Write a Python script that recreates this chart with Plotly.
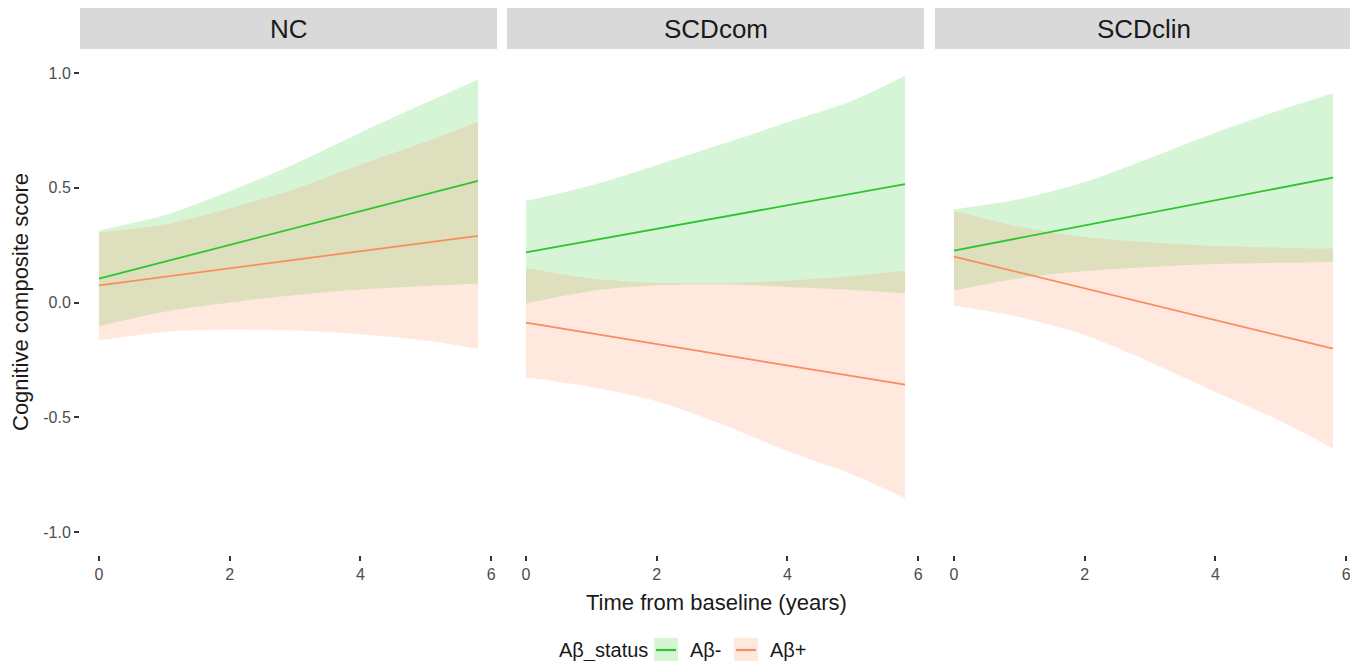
import plotly.graph_objects as go

# ---- data ----
facets = ["NC", "SCDcom", "SCDclin"]
years = [0, 1, 2, 3, 4, 5, 5.8]
groups = ["Aβ-", "Aβ+"]
legend_title = "Aβ_status"

# fitted lines
nc_neg = [0.104, 0.177, 0.251, 0.324, 0.398, 0.471, 0.530]
nc_pos = [0.075, 0.112, 0.149, 0.186, 0.223, 0.260, 0.290]
com_neg = [0.218, 0.269, 0.321, 0.372, 0.424, 0.475, 0.516]
com_pos = [-0.088, -0.135, -0.181, -0.228, -0.274, -0.321, -0.358]
clin_neg = [0.226, 0.281, 0.336, 0.390, 0.445, 0.500, 0.544]
clin_pos = [0.200, 0.131, 0.062, -0.007, -0.076, -0.146, -0.201]

# confidence bands
nc_neg_hi = [0.314, 0.380, 0.485, 0.605, 0.740, 0.870, 0.972]
nc_neg_lo = [-0.103, -0.040, 0.000, 0.033, 0.057, 0.072, 0.083]
nc_pos_hi = [0.305, 0.340, 0.410, 0.495, 0.600, 0.700, 0.786]
nc_pos_lo = [-0.164, -0.128, -0.118, -0.122, -0.138, -0.165, -0.201]

com_neg_hi = [0.443, 0.510, 0.598, 0.690, 0.785, 0.880, 0.988]
com_neg_lo = [-0.004, 0.050, 0.075, 0.078, 0.068, 0.055, 0.041]
com_pos_hi = [0.150, 0.105, 0.086, 0.085, 0.095, 0.115, 0.138]
com_pos_lo = [-0.326, -0.368, -0.430, -0.530, -0.647, -0.750, -0.852]

clin_neg_hi = [0.406, 0.450, 0.525, 0.630, 0.740, 0.840, 0.912]
clin_neg_lo = [0.052, 0.105, 0.137, 0.155, 0.168, 0.173, 0.176]
clin_pos_hi = [0.400, 0.330, 0.285, 0.262, 0.246, 0.239, 0.235]
clin_pos_lo = [-0.013, -0.063, -0.142, -0.259, -0.390, -0.517, -0.636]

x_ticks = [0, 2, 4, 6]
y_ticks = [-1.0, -0.5, 0.0, 0.5, 1.0]
y_tick_text = ["-1.0", "-0.5", "0.0", "0.5", "1.0"]

lines = {"NC": (nc_neg, nc_pos), "SCDcom": (com_neg, com_pos), "SCDclin": (clin_neg, clin_pos)}
bands = {
    "NC": ((nc_neg_lo, nc_neg_hi), (nc_pos_lo, nc_pos_hi)),
    "SCDcom": ((com_neg_lo, com_neg_hi), (com_pos_lo, com_pos_hi)),
    "SCDclin": ((clin_neg_lo, clin_neg_hi), (clin_pos_lo, clin_pos_hi)),
}

line_colors = ["#2EC42E", "#F98D5E"]
fill_colors = ["rgba(50,205,50,0.2)", "rgba(255,140,90,0.2)"]

FONT = "Liberation Sans, Arial, Helvetica, sans-serif"
TXT = "#1a1a1a"
TICK = "#4d4d4d"

fig = go.Figure()

# page is offset by 8px (body margin)
W, H = 1350, 653
ml, mr, mt, mb = 72, 6, 42, 106
pw = W - ml - mr
ph = H - mt - mb
PLOT_BOTTOM = 555  # page px
PLOT_LEFT = 80


def px(xp):
    return (xp - PLOT_LEFT) / pw


def py(yp):
    return (PLOT_BOTTOM - yp) / ph


px_dom = [(80, 497), (507, 924), (935, 1352)]

for i, f in enumerate(facets):
    xa = "x" if i == 0 else f"x{i+1}"
    ya = "y" if i == 0 else f"y{i+1}"
    for g in range(2):
        lo, hi = bands[f][g]
        fig.add_trace(go.Scatter(x=years, y=lo, mode="lines",
                                 line=dict(width=0, shape="spline", smoothing=0.8),
                                 hoverinfo="skip", showlegend=False, xaxis=xa, yaxis=ya))
        fig.add_trace(go.Scatter(x=years, y=hi, mode="lines",
                                 line=dict(width=0, shape="spline", smoothing=0.8),
                                 fill="tonexty", fillcolor=fill_colors[g],
                                 hoverinfo="skip", showlegend=False, xaxis=xa, yaxis=ya))
    for g in range(2):
        fig.add_trace(go.Scatter(x=years, y=lines[f][g], mode="lines",
                                 line=dict(color=line_colors[g], width=1.8),
                                 name=groups[g], showlegend=False, xaxis=xa, yaxis=ya))

layout = dict(
    width=W, height=H,
    margin=dict(l=ml, r=mr, t=mt, b=mb),
    paper_bgcolor="white", plot_bgcolor="white",
    font=dict(family=FONT, color=TXT),
    showlegend=False,
)
shapes = []
annotations = []
for i, (a, b) in enumerate(px_dom):
    d0, d1 = px(a), px(b)
    sfx = "" if i == 0 else str(i + 1)
    layout["xaxis" + sfx] = dict(domain=[d0, d1], range=[-0.29, 6.09], tickvals=x_ticks,
                                 ticks="outside", ticklen=5, tickwidth=2, tickcolor="#333333",
                                 showgrid=False, zeroline=False, showline=False,
                                 tickfont=dict(size=16, color=TICK, family=FONT),
                                 anchor="y" + sfx)
    yd = dict(domain=[0, 1], range=[-1.1, 1.1], showgrid=False, zeroline=False,
              showline=False, anchor="x" + sfx)
    if i == 0:
        yd.update(tickvals=y_ticks, ticktext=y_tick_text, ticks="outside", ticklen=5,
                  tickwidth=2, tickcolor="#333333",
                  tickfont=dict(size=16, color=TICK, family=FONT))
    else:
        yd.update(showticklabels=False, ticks="", matches="y")
    layout["yaxis" + sfx] = yd
    # facet strip
    shapes.append(dict(type="rect", xref="paper", yref="paper", x0=d0, x1=d1,
                       y0=py(49), y1=py(8), fillcolor="#d9d9d9", line=dict(width=0),
                       layer="below"))
    annotations.append(dict(text=facets[i], xref="paper", yref="paper", x=(d0 + d1) / 2,
                            y=py(29), xanchor="center", yanchor="middle", showarrow=False,
                            font=dict(size=26, color=TXT, family=FONT)))

annotations.append(dict(text="Time from baseline (years)", xref="paper", yref="paper",
                        x=px(716), y=py(602), xanchor="center", yanchor="middle",
                        showarrow=False, font=dict(size=22, color=TXT, family=FONT)))
annotations.append(dict(text="Cognitive composite score", xref="paper", yref="paper",
                        x=px(20), y=py(302), xanchor="center", yanchor="middle",
                        textangle=-90, showarrow=False,
                        font=dict(size=22, color=TXT, family=FONT)))

# legend (bottom, ggplot style)
annotations.append(dict(text=legend_title, xref="paper", yref="paper", x=px(557), y=py(650),
                        xanchor="left", yanchor="middle", showarrow=False,
                        font=dict(size=20, color=TXT, family=FONT)))
key_left = [654, 734]
label_left = [688, 768]
for g in range(2):
    shapes.append(dict(type="rect", xref="paper", yref="paper",
                       x0=px(key_left[g]), x1=px(key_left[g] + 24),
                       y0=py(662), y1=py(638), fillcolor=fill_colors[g], line=dict(width=0)))
    shapes.append(dict(type="line", xref="paper", yref="paper",
                       x0=px(key_left[g] + 2), x1=px(key_left[g] + 22),
                       y0=py(650), y1=py(650), line=dict(color=line_colors[g], width=2.2)))
    annotations.append(dict(text=groups[g], xref="paper", yref="paper", x=px(label_left[g]),
                            y=py(650), xanchor="left", yanchor="middle", showarrow=False,
                            font=dict(size=20, color=TXT, family=FONT)))

layout["shapes"] = shapes
layout["annotations"] = annotations
fig.update_layout(**layout)

fig.write_html("out.html")
